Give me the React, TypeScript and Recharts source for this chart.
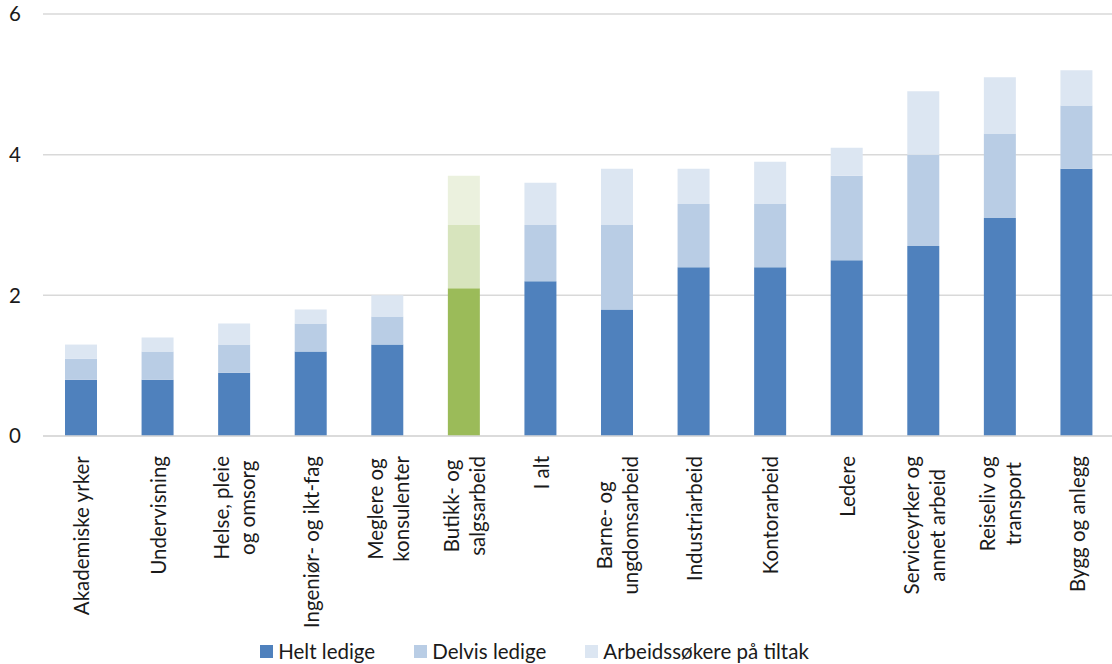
import { BarChart, Bar, XAxis, YAxis, CartesianGrid, Legend, Cell } from 'recharts'

document.body.style.margin = '0'

const kategorier = [
  'Akademiske yrker',
  'Undervisning',
  'Helse, pleie\nog omsorg',
  'Ingeniør- og ikt-fag',
  'Meglere og\nkonsulenter',
  'Butikk- og\nsalgsarbeid',
  'I alt',
  'Barne- og\nungdomsarbeid',
  'Industriarbeid',
  'Kontorarbeid',
  'Ledere',
  'Serviceyrker og\nannet arbeid',
  'Reiseliv og\ntransport',
  'Bygg og anlegg',
]

const heltLedige = [0.8, 0.8, 0.9, 1.2, 1.3, 2.1, 2.2, 1.8, 2.4, 2.4, 2.5, 2.7, 3.1, 3.8]
const delvisLedige = [0.3, 0.4, 0.4, 0.4, 0.4, 0.9, 0.8, 1.2, 0.9, 0.9, 1.2, 1.3, 1.2, 0.9]
const tiltak = [0.2, 0.2, 0.3, 0.2, 0.3, 0.7, 0.6, 0.8, 0.5, 0.6, 0.4, 0.9, 0.8, 0.5]

const yTicks = [0, 2, 4, 6]

// kategorien som er uthevet i grønt
const uthevet = 'Butikk- og\nsalgsarbeid'

const FONT = 'Lato, "Open Sans", sans-serif'
const FS = 20.5
const LINJE = 26

const serier = [
  { key: 'helt', navn: 'Helt ledige', farge: '#4F81BD', gronn: '#9BBB59' },
  { key: 'delvis', navn: 'Delvis ledige', farge: '#B9CDE5', gronn: '#D7E4BD' },
  { key: 'tiltak', navn: 'Arbeidssøkere på tiltak', farge: '#DCE6F2', gronn: '#EBF1DE' },
]

const data = kategorier.map((kat, i) => ({
  kat,
  helt: heltLedige[i],
  delvis: delvisLedige[i],
  tiltak: tiltak[i],
}))

let ctx: CanvasRenderingContext2D | null = null
function tekstBredde(t: string) {
  if (!ctx) {
    ctx = document.createElement('canvas').getContext('2d')
    if (ctx) ctx.font = `${FS}px Lato`
  }
  return ctx ? ctx.measureText(t).width : t.length * 9
}

function KategoriTick({ x, y, payload }: any) {
  const linjer = String(payload.value).split('\n')
  const maks = Math.max(...linjer.map(tekstBredde))
  const top = y + 12
  return (
    <g transform={`translate(${x},${top + maks / 2}) rotate(-90)`}>
      {linjer.map((l, i) => (
        <text
          key={i}
          x={0}
          y={(i - (linjer.length - 1) / 2) * LINJE}
          textAnchor="middle"
          dominantBaseline="central"
          fill="#1a1a1a"
          fontSize={FS}
          fontFamily={FONT}
        >
          {l}
        </text>
      ))}
    </g>
  )
}

function Forklaring() {
  return (
    <div style={{ display: 'flex', justifyContent: 'center', gap: 39, paddingRight: 46, paddingTop: 3, fontFamily: FONT, fontSize: FS, color: '#1a1a1a' }}>
      {serier.map((s) => (
        <div key={s.key} style={{ display: 'flex', alignItems: 'center', gap: 5 }}>
          <span style={{ width: 13, height: 13, background: s.farge, display: 'inline-block' }} />
          <span>{s.navn}</span>
        </div>
      ))}
    </div>
  )
}

export default function App() {
  return (
    <div style={{ width: 1112, height: 664, background: '#fff', overflow: 'hidden' }}>
      <BarChart
        width={1112}
        height={664}
        data={data}
        barSize={32}
        margin={{ top: 14, right: -3, left: 0, bottom: 0 }}
      >
        <CartesianGrid vertical={false} stroke="#D9D9D9" strokeWidth={1.5} />
        <XAxis
          dataKey="kat"
          interval={0}
          tickLine={false}
          axisLine={{ stroke: '#D9D9D9', strokeWidth: 1.5 }}
          height={200}
          tick={<KategoriTick />}
        />
        <YAxis
          domain={[0, 6]}
          ticks={yTicks}
          width={43}
          axisLine={false}
          tickLine={false}
          tickSize={0}
          tickMargin={22}
          tick={{ fill: '#1a1a1a', fontSize: FS, fontFamily: FONT }}
        />
        <Legend verticalAlign="bottom" content={<Forklaring />} wrapperStyle={{ height: 28 }} />
        {serier.map((s) => (
          <Bar key={s.key} dataKey={s.key} name={s.navn} stackId="a" fill={s.farge} isAnimationActive={false}>
            {data.map((d) => (
              <Cell key={d.kat} fill={d.kat === uthevet ? s.gronn : s.farge} />
            ))}
          </Bar>
        ))}
      </BarChart>
    </div>
  )
}
